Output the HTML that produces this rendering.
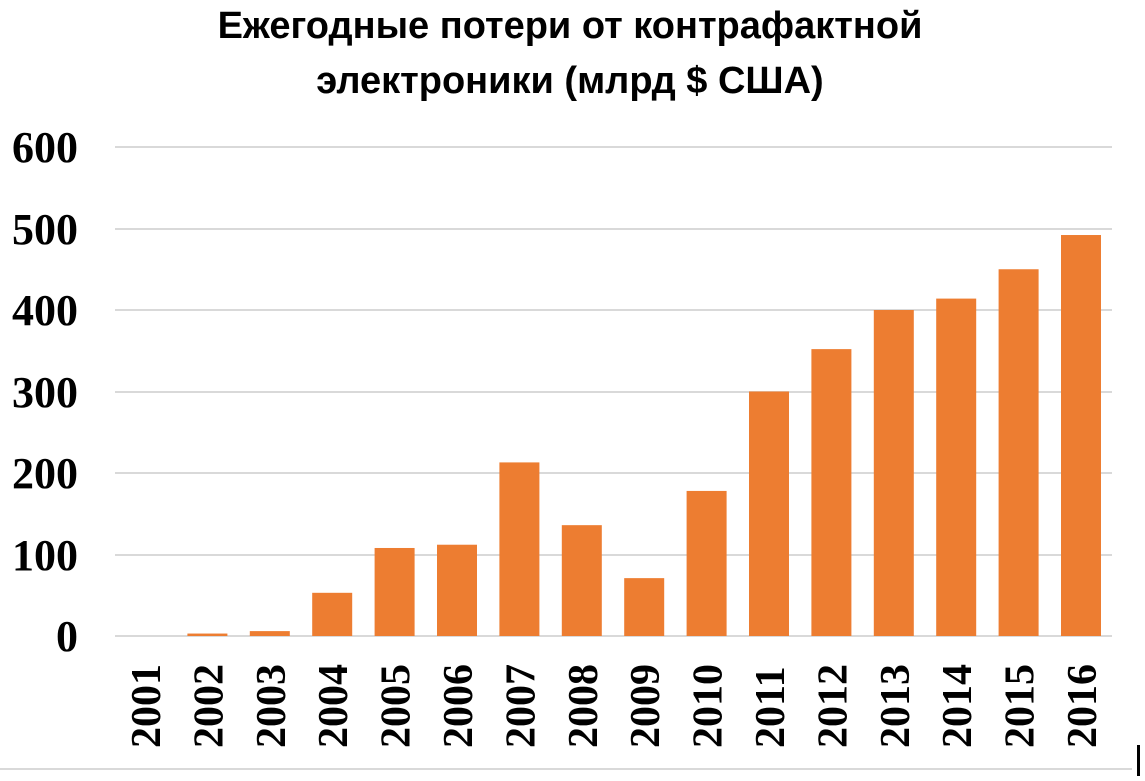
<!DOCTYPE html>
<html><head><meta charset="utf-8"><style>
body{margin:0;background:#fff;width:1145px;height:776px;overflow:hidden}
</style></head><body>
<svg width="1145" height="776" xmlns="http://www.w3.org/2000/svg">
<text x="570" y="38" text-anchor="middle" font-family="Liberation Sans, sans-serif" font-weight="bold" font-size="38">Ежегодные потери от контрафактной</text>
<text x="570" y="93" text-anchor="middle" font-family="Liberation Sans, sans-serif" font-weight="bold" font-size="38">электроники (млрд $ США)</text>
<g stroke="#d9d9d9" stroke-width="2">
<line x1="115" x2="1112" y1="147" y2="147"/><line x1="115" x2="1112" y1="229" y2="229"/>
<line x1="115" x2="1112" y1="310" y2="310"/><line x1="115" x2="1112" y1="392" y2="392"/>
<line x1="115" x2="1112" y1="473" y2="473"/><line x1="115" x2="1112" y1="555" y2="555"/>
<line x1="115" x2="1112" y1="636" y2="636"/>
<line x1="0" x2="1132" y1="769" y2="769"/>
</g>
<g font-family="Liberation Serif, serif" font-weight="bold" font-size="44" text-anchor="end">
<text x="78" y="162">600</text><text x="78" y="244">500</text><text x="78" y="325">400</text>
<text x="78" y="407">300</text><text x="78" y="488">200</text><text x="78" y="570">100</text><text x="78" y="651">0</text>
</g>
<g fill="#ed7d31" id="bars"></g>
<g id="lbl" font-family="Liberation Serif, serif" font-weight="bold" font-size="42"></g>
<rect x="1137" y="745" width="3" height="31" fill="#000"/>
<script>
var v=[0,3,6,53,108,112,213,136,71,178,300,352,400,414,450,492];
var b=document.getElementById('bars'),l=document.getElementById('lbl'),ns='http://www.w3.org/2000/svg';
v.forEach(function(d,i){var c=145+i*62.4;var h=d*0.815;
var r=document.createElementNS(ns,'rect');r.setAttribute('x',c-20);r.setAttribute('width',40);r.setAttribute('y',636-h);r.setAttribute('height',h);b.appendChild(r);
var t=document.createElementNS(ns,'text');t.setAttribute('transform','translate('+(c+15)+',748) rotate(-90)');t.textContent=2001+i;l.appendChild(t);});
</script>
</svg>
</body></html>
